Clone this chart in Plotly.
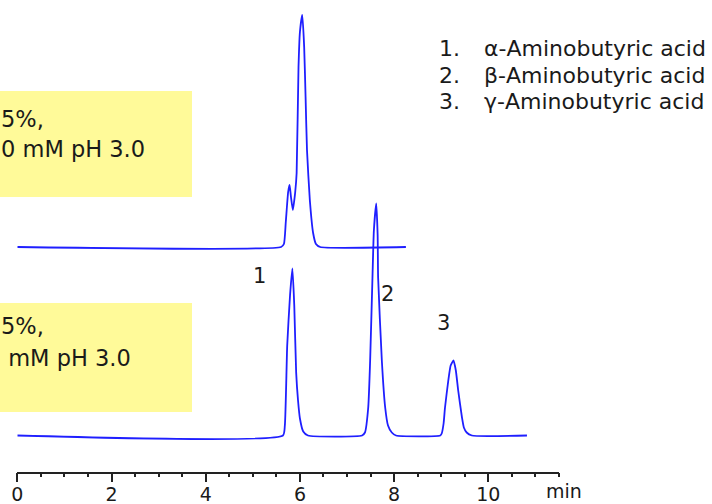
import plotly.graph_objects as go

# ---------------- data ----------------
# Upper chromatogram: retention time (min) and signal (arbitrary units)
upper_time = [0, 5.60, 5.66, 5.70, 5.75, 5.78, 5.81, 5.85, 5.90, 5.93, 5.97,
              6.00, 6.05, 6.09, 6.12, 6.15, 6.21, 6.28, 6.34, 6.43, 8.25]
upper_signal = [0, 0, 3, 25, 55, 62, 50, 37, 55, 74, 180,
                215, 232, 200, 150, 97, 47, 14, 3, 0, 0]

# Lower chromatogram
lower_time = [0, 5.64, 5.68, 5.73, 5.79, 5.84, 5.88, 5.92, 5.96, 6.00, 6.07, 6.17,
              7.32, 7.38, 7.45, 7.49, 7.54, 7.57, 7.62, 7.65, 7.66, 7.74, 7.81, 7.87, 7.95, 8.04,
              8.98, 9.01, 9.05, 9.08, 9.15, 9.20, 9.26, 9.31, 9.36, 9.44, 9.48, 9.54, 9.65, 10.82]
lower_signal = [0, 0, 10, 90, 140, 167, 130, 63, 35, 17, 4, 0,
                0, 3, 28, 74, 158, 205, 232, 200, 158, 74, 28, 10, 3, 0,
                0, 2, 12, 28, 55, 70, 75, 65, 45, 18, 8, 3, 0, 0]

# Peak labels
peak_labels = ["1", "2", "3"]
peak_label_time = [5.15, 7.85, 9.05]
peak_label_signal = [160, 142, 113]

# Compound list
compound_numbers = ["1.", "2.", "3."]
compound_names = ["α-Aminobutyric acid", "β-Aminobutyric acid", "γ-Aminobutyric acid"]

# Axis ticks
tick_values = [0, 2, 4, 6, 8, 10]
tick_labels = ["0", "2", "4", "6", "8", "10"]
minor_tick_values = [0.5, 1, 1.5, 2.5, 3, 3.5, 4.5, 5, 5.5, 6.5, 7, 7.5,
                     8.5, 9, 9.5, 10.5, 11, 11.5]

# Condition boxes (text as visible in the picture)
upper_box_lines = ["5%,", "0 mM pH 3.0"]
lower_box_lines = ["5%,", " mM pH 3.0"]

# ---------------- layout constants ----------------
W, H = 712, 504
UPPER_OFFSET = 188.5
LINE_COLOR = "#1f1fff"
TEXT_COLOR = "#1a1a1a"
FONT = "DejaVu Sans"


def px(x):
    return x / W


def py(y):
    return 1 - y / H


fig = go.Figure()
fig.add_trace(go.Scatter(
    x=upper_time, y=[v + UPPER_OFFSET for v in upper_signal],
    mode="lines", line=dict(color=LINE_COLOR, width=1.8, shape="spline", smoothing=0.5),
    hoverinfo="skip", showlegend=False))
fig.add_trace(go.Scatter(
    x=lower_time, y=lower_signal,
    mode="lines", line=dict(color=LINE_COLOR, width=1.8, shape="spline", smoothing=0.5),
    hoverinfo="skip", showlegend=False))

annotations = []
for lab, t, s in zip(peak_labels, peak_label_time, peak_label_signal):
    annotations.append(dict(x=t, y=s, xref="x", yref="y", text=lab, showarrow=False,
                            font=dict(family=FONT, size=21, color=TEXT_COLOR)))

legend_y = [48, 75, 102]
for num, name, yy in zip(compound_numbers, compound_names, legend_y):
    annotations.append(dict(x=px(437), y=py(yy), xref="paper", yref="paper", text=num,
                            showarrow=False, xanchor="left", yanchor="middle",
                            font=dict(family=FONT, size=22, color=TEXT_COLOR)))
    annotations.append(dict(x=px(482), y=py(yy), xref="paper", yref="paper", text=name,
                            showarrow=False, xanchor="left", yanchor="middle",
                            font=dict(family=FONT, size=22, color=TEXT_COLOR)))

# condition box texts (right-anchored as the left part is cut off)
for txt, xr, yy in zip(upper_box_lines, [45, 146], [119, 149]):
    annotations.append(dict(x=px(xr), y=py(yy), xref="paper", yref="paper", text=txt,
                            showarrow=False, xanchor="right", yanchor="middle", borderpad=0,
                            font=dict(family=FONT, size=22.5, color=TEXT_COLOR)))
for txt, xr, yy in zip(lower_box_lines, [45, 132], [326, 358]):
    annotations.append(dict(x=px(xr), y=py(yy), xref="paper", yref="paper", text=txt,
                            showarrow=False, xanchor="right", yanchor="middle", borderpad=0,
                            font=dict(family=FONT, size=22.5, color=TEXT_COLOR)))

annotations.append(dict(x=px(544), y=py(491), xref="paper", yref="paper", text="min",
                        showarrow=False, xanchor="left", yanchor="middle",
                        font=dict(family=FONT, size=19, color=TEXT_COLOR)))

shapes = [
    dict(type="rect", xref="paper", yref="paper", x0=px(-5), x1=px(192), y0=py(197), y1=py(91),
         fillcolor="#fffa99", line=dict(width=0), layer="below"),
    dict(type="rect", xref="paper", yref="paper", x0=px(-5), x1=px(192), y0=py(412), y1=py(303),
         fillcolor="#fffa99", line=dict(width=0), layer="below"),
]

fig.update_layout(
    width=W, height=H,
    margin=dict(l=0, r=0, t=0, b=0, pad=0),
    paper_bgcolor="white", plot_bgcolor="rgba(0,0,0,0)",
    showlegend=False,
    annotations=annotations,
    shapes=shapes,
    xaxis=dict(
        domain=[px(17.3), px(559)], range=[0, 11.5],
        anchor="free", position=py(472.5),
        showgrid=False, zeroline=False,
        showline=True, linecolor="#222", linewidth=1.5,
        ticks="outside", ticklen=9, tickwidth=1.5, tickcolor="#222",
        tickmode="array", tickvals=tick_values, ticktext=tick_labels,
        tickfont=dict(family=FONT, size=19, color=TEXT_COLOR),
        ticklabelstandoff=-4,
        minor=dict(tickmode="array", tickvals=minor_tick_values, ticks="outside",
                   ticklen=4, tickwidth=1.5, tickcolor="#222", showgrid=False),
        automargin=False, fixedrange=True,
    ),
    yaxis=dict(
        domain=[0, 1], range=[-68.5, 435.5],
        visible=False, showgrid=False, zeroline=False, automargin=False, fixedrange=True,
    ),
)

fig.write_html(
    "out.html",
    config={"displayModeBar": False},
    post_script="document.body.style.margin='0';document.body.style.overflow='hidden';",
)
